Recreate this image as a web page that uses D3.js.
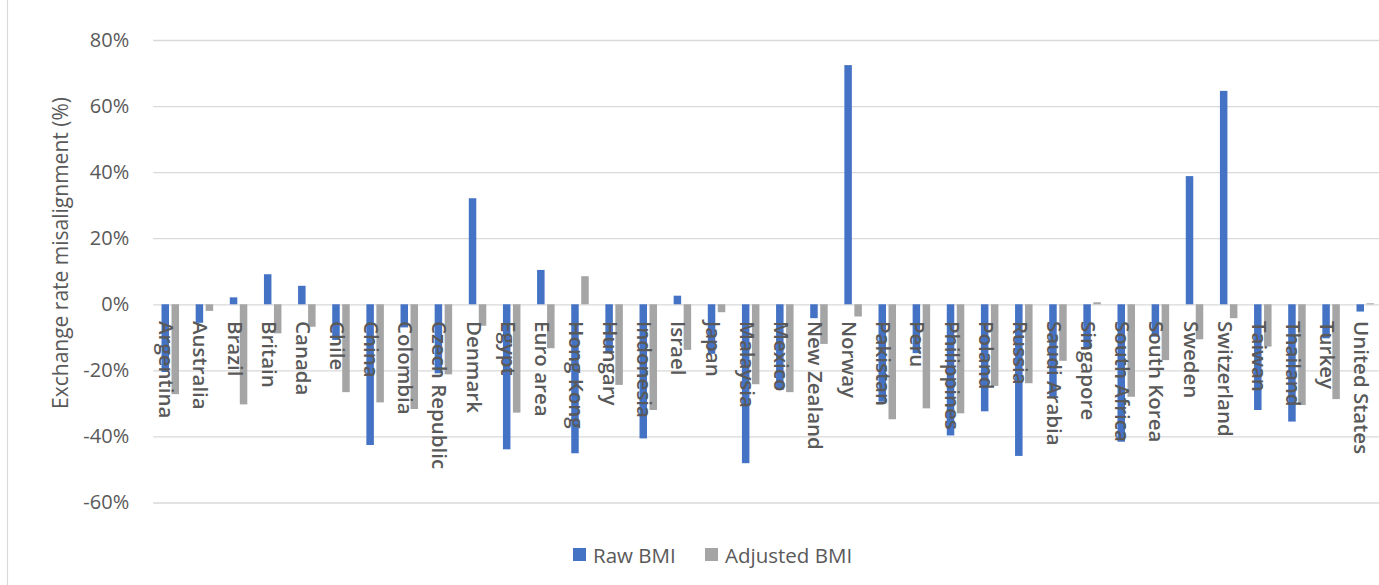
<!DOCTYPE html>
<html>
<head>
<meta charset="utf-8">
<script src="https://cdn.jsdelivr.net/npm/d3@7"></script>
<style>
  html, body { margin: 0; padding: 0; background: #fff; }
  svg { display: block; font-family: "Open Sans", "DejaVu Sans", sans-serif; }
</style>
</head>
<body>
<svg id="chart" width="1379" height="585"></svg>
<script>
// Big Mac index: raw vs. GDP-adjusted exchange rate misalignment (%)
const countries = ["Argentina","Australia","Brazil","Britain","Canada","Chile","China","Colombia",
  "Czech Republic","Denmark","Egypt","Euro area","Hong Kong","Hungary","Indonesia","Israel","Japan",
  "Malaysia","Mexico","New Zealand","Norway","Pakistan","Peru","Philippines","Poland","Russia",
  "Saudi Arabia","Singapore","South Africa","South Korea","Sweden","Switzerland","Taiwan","Thailand",
  "Turkey","United States"];
const rawBMI = [-20.5, -5.6, 2.1, 9.1, 5.6, -10.8, -42.6, -7.0, -20.9, 32.1, -43.9, 10.4, -45.1,
  -14.5, -40.6, 2.6, -15.0, -48.1, -25.9, -4.2, 72.4, -29.5, -14.8, -39.7, -32.4, -45.9, -28.0,
  -13.5, -41.6, -9.8, 38.8, 64.6, -32.0, -35.5, -10.3, -2.2];
const adjustedBMI = [-27.2, -2.0, -30.3, -8.8, -6.8, -26.6, -29.7, -31.7, -21.2, -6.5, -32.8, -13.3,
  8.5, -24.4, -32.0, -13.8, -2.4, -24.2, -26.6, -12.0, -3.7, -34.8, -31.5, -33.0, -24.7, -23.9,
  -17.1, 0.6, -28.0, -16.9, -10.6, -4.2, -12.8, -30.5, -28.7, 0.3];
const seriesNames = ["Raw BMI", "Adjusted BMI"];
const seriesColors = ["#4472C4", "#A5A5A5"];
const yTicks = [-60, -40, -20, 0, 20, 40, 60, 80];

const svg = d3.select("#chart");
const textColor = "#595959";

// chart frame edge
svg.append("line").attr("x1", 7.5).attr("x2", 7.5).attr("y1", 0).attr("y2", 585)
  .attr("stroke", "#d9d9d9").attr("stroke-width", 1.2);

const plotLeft = 153.2, plotRight = 1382.3;
const x0 = d3.scaleBand().domain(countries).range([plotLeft, plotRight]).padding(0);
const groupWidth = 17.5;
const x1 = d3.scaleBand().domain(seriesNames).range([0, groupWidth]).paddingInner(0.25).paddingOuter(0);
const y = d3.scaleLinear().domain([-60, 80]).range([502.5, 40]);

// horizontal gridlines and value ticks
const yAxis = d3.axisLeft(y).tickValues(yTicks).tickSize(-(1379 - plotLeft)).tickPadding(24)
  .tickFormat(d => d + "%");
const gy = svg.append("g").attr("transform", `translate(${plotLeft},0)`).call(yAxis);
gy.select(".domain").remove();
gy.selectAll(".tick line").attr("stroke", "#d9d9d9").attr("stroke-width", 1.3);
gy.selectAll(".tick text").attr("fill", textColor).attr("font-size", 20)
  .attr("font-family", "'Open Sans', sans-serif");

// bars
const rows = countries.map((c, i) => ({ country: c, values: [rawBMI[i], adjustedBMI[i]] }));
const groups = svg.append("g").selectAll("g").data(rows).join("g")
  .attr("transform", d => `translate(${x0(d.country) + x0.bandwidth() / 2 - groupWidth / 2},0)`);
groups.selectAll("rect")
  .data(d => d.values.map((v, k) => ({ key: seriesNames[k], value: v, k })))
  .join("rect")
  .attr("x", d => x1(d.key))
  .attr("width", x1.bandwidth())
  .attr("y", d => y(Math.max(0, d.value)))
  .attr("height", d => Math.abs(y(d.value) - y(0)))
  .attr("fill", d => seriesColors[d.k]);

// category labels, rotated and drawn over the bars
svg.append("g").selectAll("text").data(countries).join("text")
  .attr("transform", d => `translate(${x0(d) + x0.bandwidth() / 2 - 3},321) rotate(90)`)
  .attr("dominant-baseline", "central")
  .attr("text-anchor", "start")
  .attr("fill", textColor)
  .attr("font-size", 20.5)
  .attr("font-weight", 600)
  .text(d => d);

// y-axis title
svg.append("text")
  .attr("transform", "translate(60,253) rotate(-90)")
  .attr("text-anchor", "middle")
  .attr("dominant-baseline", "central")
  .attr("fill", textColor)
  .attr("font-size", 21)
  .text("Exchange rate misalignment (%)");

// legend
const legendItems = [{ name: seriesNames[0], color: seriesColors[0], x: 573 },
                     { name: seriesNames[1], color: seriesColors[1], x: 705 }];
const lg = svg.append("g").selectAll("g").data(legendItems).join("g")
  .attr("transform", d => `translate(${d.x},548)`);
lg.append("rect").attr("width", 13).attr("height", 13).attr("fill", d => d.color);
lg.append("text").attr("x", 20).attr("y", 7).attr("dominant-baseline", "central")
  .attr("fill", textColor).attr("font-size", 20.5).text(d => d.name);
</script>
</body>
</html>
